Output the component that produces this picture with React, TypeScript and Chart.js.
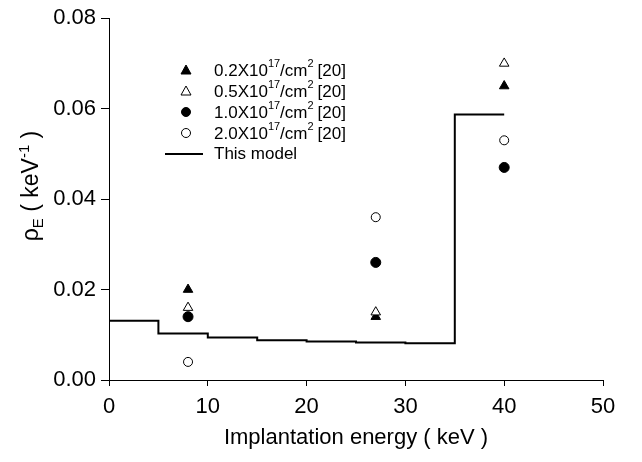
import React, { useEffect, useRef } from "react";
import { Chart, registerables } from "chart.js";

Chart.register(...registerables);

const FONT = "'Liberation Sans', Arial, sans-serif";

const energies = [8, 27, 40];
const dose02 = [0.020, 0.014, 0.065];
const dose05 = [0.016, 0.015, 0.070];
const dose10 = [0.014, 0.026, 0.047];
const dose20 = [0.004, 0.036, 0.053];

const modelX = [0, 5, 10, 15, 20, 25, 30, 35, 40];
const modelY = [0.0131, 0.0103, 0.0094, 0.0088, 0.0085, 0.0083, 0.0081, 0.0587, 0.0587];

const legendLabels = ["0.2X10", "0.5X10", "1.0X10", "2.0X10"];
const xTitle = "Implantation energy ( keV )";

const pts = (ys: number[]) => energies.map((x, i) => ({ x, y: ys[i] }));

const overlayPlugin = {
  id: "overlay",
  afterDraw(chart: any) {
    const ctx = chart.ctx;
    ctx.save();
    ctx.fillStyle = "#000";
    ctx.strokeStyle = "#000";
    // legend
    const mx = 186;
    const tx = 214;
    const rows = [70, 91, 112, 133];
    const styles = [
      { tri: true, fill: true },
      { tri: true, fill: false },
      { tri: false, fill: true },
      { tri: false, fill: false },
    ];
    ctx.textBaseline = "middle";
    rows.forEach((y, i) => {
      const s = styles[i];
      ctx.beginPath();
      ctx.lineWidth = 1;
      if (s.tri) {
        ctx.moveTo(mx, y - 5);
        ctx.lineTo(mx + 5, y + 4);
        ctx.lineTo(mx - 5, y + 4);
        ctx.closePath();
      } else {
        ctx.arc(mx, y, 4.5, 0, Math.PI * 2);
      }
      ctx.fillStyle = s.fill ? "#000" : "#fff";
      ctx.fill();
      ctx.stroke();
      ctx.fillStyle = "#000";
      let x = tx;
      ctx.font = `17px ${FONT}`;
      ctx.fillText(legendLabels[i], x, y + 1);
      x += ctx.measureText(legendLabels[i]).width;
      ctx.font = `11px ${FONT}`;
      ctx.fillText("17", x, y - 6);
      x += ctx.measureText("17").width;
      ctx.font = `17px ${FONT}`;
      ctx.fillText("/cm", x, y + 1);
      x += ctx.measureText("/cm").width;
      ctx.font = `11px ${FONT}`;
      ctx.fillText("2", x, y - 6);
      x += ctx.measureText("2").width + 4;
      ctx.font = `17px ${FONT}`;
      ctx.fillText("[20]", x, y + 1);
    });
    ctx.beginPath();
    ctx.lineWidth = 2;
    ctx.moveTo(165, 154);
    ctx.lineTo(203, 154);
    ctx.stroke();
    ctx.font = `17px ${FONT}`;
    ctx.fillText("This model", tx, 154);

    // y title
    ctx.translate(30, 186);
    ctx.rotate(-Math.PI / 2);
    ctx.textBaseline = "alphabetic";
    const parts: [string, number, number][] = [
      ["\u03C1", 23, 0],
      ["E", 15, 5],
      [" ( keV", 23, 0],
      ["-1", 15, -9],
      [" )", 23, 0],
    ];
    let total = 0;
    parts.forEach(([t, f]) => {
      ctx.font = `${f}px ${FONT}`;
      total += ctx.measureText(t).width;
    });
    let px = -total / 2;
    parts.forEach(([t, f, dy]) => {
      ctx.font = `${f}px ${FONT}`;
      ctx.fillText(t, px, 8 + dy);
      px += ctx.measureText(t).width;
    });
    ctx.restore();
  },
};

export default function App() {
  const ref = useRef<HTMLCanvasElement>(null);
  useEffect(() => {
    document.body.style.margin = "0";
    const tickFont = { family: FONT, size: 22 };
    const chart = new Chart(ref.current!, {
      type: "scatter",
      data: {
        datasets: [
          {
            type: "line",
            label: "This model",
            data: modelX.map((x, i) => ({ x, y: modelY[i] })),
            stepped: "before",
            borderColor: "#000",
            borderWidth: 2,
            pointRadius: 0,
            fill: false,
          } as any,
          {
            label: "0.5X10^17/cm^2 [20]",
            data: pts(dose05),
            pointStyle: "triangle",
            pointRadius: 5.5,
            backgroundColor: "#fff",
            borderColor: "#000",
            borderWidth: 1,
          },
          {
            label: "0.2X10^17/cm^2 [20]",
            data: pts(dose02),
            pointStyle: "triangle",
            pointRadius: 5.5,
            backgroundColor: "#000",
            borderColor: "#000",
            borderWidth: 1,
          },
          {
            label: "1.0X10^17/cm^2 [20]",
            data: pts(dose10),
            pointStyle: "circle",
            pointRadius: 5,
            backgroundColor: "#000",
            borderColor: "#000",
            borderWidth: 1,
          },
          {
            label: "2.0X10^17/cm^2 [20]",
            data: pts(dose20),
            pointStyle: "circle",
            pointRadius: 4.5,
            backgroundColor: "#fff",
            borderColor: "#000",
            borderWidth: 1,
          },
        ],
      },
      options: {
        animation: false,
        responsive: false,
        devicePixelRatio: 1,
        layout: { padding: { left: 0, right: 39, top: 18, bottom: 0 } },
        plugins: { legend: { display: false }, tooltip: { enabled: false } },
        scales: {
          x: {
            type: "linear",
            min: 0,
            max: 50,
            ticks: { stepSize: 10, color: "#000", font: tickFont, padding: 8 },
            grid: { drawOnChartArea: false, drawTicks: true, tickLength: 6, color: "#000" },
            border: { display: true, color: "#000", width: 1 },
            title: { display: true, text: xTitle, color: "#000", font: { family: FONT, size: 22 }, padding: { top: 4, bottom: 11 } },
            afterFit: (s: any) => { s.height = 82; },
          },
          y: {
            min: 0,
            max: 0.08,
            ticks: {
              stepSize: 0.02,
              color: "#000",
              font: tickFont,
              padding: 5,
              callback: (v: any) => Number(v).toFixed(2),
            },
            grid: { drawOnChartArea: false, drawTicks: true, tickLength: 8, color: "#000" },
            border: { display: true, color: "#000", width: 1 },
            afterFit: (s: any) => { s.width = 109; },
          },
        },
      },
      plugins: [overlayPlugin],
    } as any);
    return () => chart.destroy();
  }, []);
  return <canvas ref={ref} width={642} height={462} style={{ display: "block" }} />;
}
